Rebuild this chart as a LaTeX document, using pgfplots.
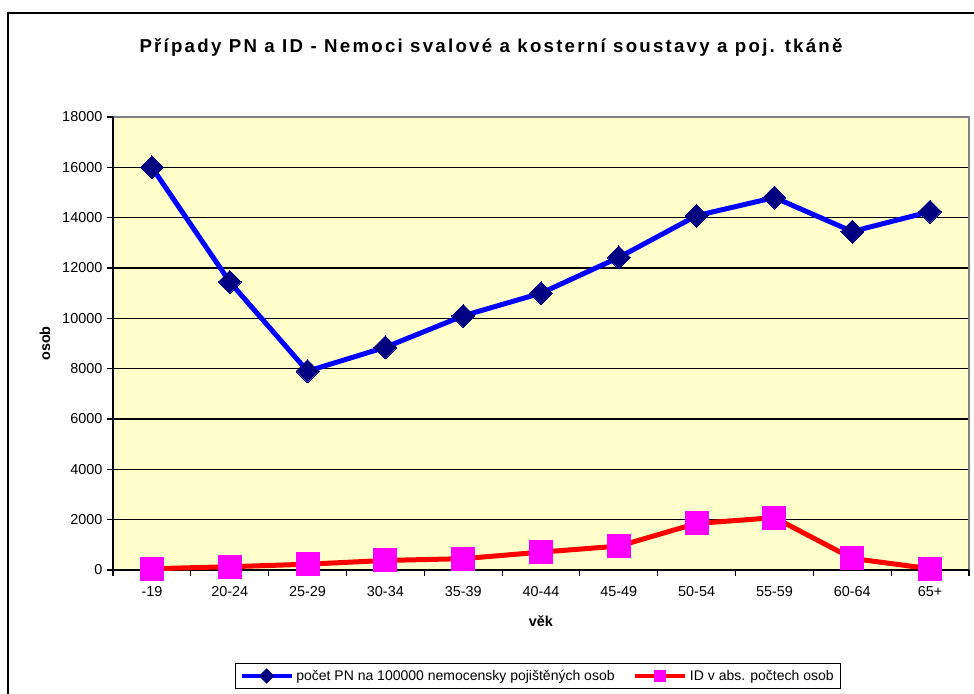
\documentclass[border=0pt]{standalone}
\usepackage{pgfplots}
\pgfplotsset{compat=1.18}
\usepackage{fontspec}
\setmainfont{Liberation Sans}
\newfontfamily\titlefont{Liberation Sans}[LetterSpace=12]
\definecolor{plotbg}{HTML}{FFFFCC}
\definecolor{navy}{HTML}{000080}
\definecolor{pbblue}{HTML}{0000FF}
\definecolor{pbred}{HTML}{FF0000}
\definecolor{pbpink}{HTML}{FF00FF}
\begin{document}
\begin{tikzpicture}
\path[use as bounding box] (0pt,0pt) rectangle (730.5pt,519.75pt);
\draw[line width=1.5pt] (6pt,-10pt) -- (6pt,510pt) -- (740pt,510pt);
\begin{axis}[
  at={(84.75pt,92.25pt)}, anchor=south west,
  scale only axis, width=642pt, height=339.75pt,
  xmin=-0.5, xmax=10.5, ymin=0, ymax=18000,
  ytick={0,2000,...,18000},
  xtick={0,...,10},
  xticklabels={-19,20-24,25-29,30-34,35-39,40-44,45-49,50-54,55-59,60-64,65+},
  minor xtick={-0.5,0.5,...,10.5},
  xtick pos=bottom, ytick pos=left,
  major x tick style={draw=none},
  minor x tick style={black, line width=0.8pt},
  tick align=outside,
  major tick length=4.5pt, minor tick length=4.5pt,
  y tick style={black, line width=0.8pt},
  ymajorgrids, grid style={black, line width=1pt},
  axis background/.style={fill=plotbg},
  axis line style={draw=none},
  scaled y ticks=false,
  yticklabel style={/pgf/number format/.cd, fixed, 1000 sep={}},
  xticklabel style={yshift=-4pt},
  /pgf/number format/assume math mode=true,
  tick label style={font=\fontsize{10.8}{13}\selectfont},
  xlabel={\textbf{věk}}, ylabel={\textbf{osob}},
  xlabel style={at={(axis description cs:0.5,-0.1126)}, anchor=center, font=\fontsize{10.8}{13}\selectfont},
  ylabel style={at={(axis description cs:-0.0794,0.5)}, anchor=center, font=\fontsize{10.8}{13}\selectfont},
  clip=false,
  legend style={at={(axis description cs:0.4965,-0.234)}, anchor=center, draw=black, line width=1pt,
    legend columns=2, font=\fontsize{10.5}{12}\selectfont, inner ysep=3pt, inner xsep=3pt,
    /tikz/every even column/.append style={column sep=12pt}},
]
\draw[gray, line width=1.5pt] (rel axis cs:0,1) -- (rel axis cs:1,1) -- (rel axis cs:1,0);
\draw[black, line width=1.2pt] (rel axis cs:0,1) -- (rel axis cs:0,0) -- (rel axis cs:1,0);
\addplot[pbblue, line width=3.75pt, mark=square*, mark size=6.1pt,
  mark options={fill=navy, draw=navy, rotate=45, line width=0pt},
  legend image code/.code={
    \draw[pbblue, line width=3pt] (0pt,0pt) -- (37.5pt,0pt);
    \fill[navy] (18.75pt,0pt) ++(0,3.2pt) -- ++(3.2pt,-3.2pt) -- ++(-3.2pt,-3.2pt) -- ++(-3.2pt,3.2pt) -- cycle;}]
  coordinates {(0,16000) (1,11450) (2,7900) (3,8850) (4,10100) (5,11000) (6,12420) (7,14080) (8,14800) (9,13450) (10,14240)};
\addlegendentry{počet PN na 100000 nemocensky pojištěných osob}
\addplot[pbred, line width=3.75pt, mark=square*, mark size=8.6pt,
  mark options={fill=pbpink, draw=pbpink, line width=0pt},
  legend image code/.code={
    \draw[pbred, line width=3pt] (0pt,0pt) -- (37.5pt,0pt);
    \fill[pbpink] (16pt,-2.8pt) rectangle (21.5pt,2.8pt);}]
  coordinates {(0,50) (1,130) (2,230) (3,380) (4,450) (5,710) (6,950) (7,1850) (8,2080) (9,460) (10,50)};
\addlegendentry{ID v abs. počtech osob}
\node[font=\titlefont\fontsize{14}{16}\selectfont\bfseries] at (axis description cs:0.4416,1.1545) {Případy PN a ID - Nemoci svalové a kosterní soustavy a poj. tkáně};
\end{axis}
\end{tikzpicture}
\end{document}
